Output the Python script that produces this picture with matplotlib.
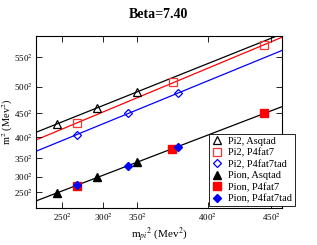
import numpy as np
import matplotlib
matplotlib.use('Agg')
import matplotlib.pyplot as plt

plt.rcParams['font.family'] = ['Liberation Serif', 'DejaVu Serif']
plt.rcParams['mathtext.fontset'] = 'stix'

# m^2 values in MeV^2
pi2_asq_x = [59000, 85980, 112570]
pi2_asq_y = [183390, 211835, 240280]
pi2_p4_x = [72390, 137073, 198006]
pi2_p4_y = [184635, 258058, 323837]
pi2_p4tad_x = [72590, 106539, 140220]
pi2_p4tad_y = [164368, 202413, 237968]

pion_asq_x = [59000, 85980, 112770]
pion_asq_y = [61256, 88634, 115834]
pion_p4_x = [72390, 136202, 198006]
pion_p4_y = [73700, 139479, 202413]
pion_p4tad_x = [72590, 106740, 140019]
pion_p4tad_y = [74411, 108723, 142501]

xtick_vals = [250**2, 300**2, 336**2, 400**2, 450**2]
xtick_labels = ['250$^2$', '300$^2$', '350$^2$', '400$^2$', '450$^2$']
ytick_vals = [250**2, 300**2, 350**2, 400**2, 450**2, 500**2, 550**2]
ytick_labels = ['250$^2$', '300$^2$', '350$^2$', '400$^2$', '450$^2$', '500$^2$', '550$^2$']

fig = plt.figure(figsize=(3.17, 2.45), dpi=100)
ax = fig.add_axes([36/317, 1-208/245, 246/317, 172/245])

xlim = (45133, 209868)
xx = np.array(xlim)

def fit_line(xs, ys, color):
    p = np.polyfit(xs, ys, 1)
    ax.plot(xx, np.polyval(p, xx), color=color, linewidth=0.9, zorder=1)

fit_line(pi2_asq_x, pi2_asq_y, 'black')
fit_line(pi2_p4_x, pi2_p4_y, 'red')
fit_line(pi2_p4tad_x, pi2_p4tad_y, 'blue')
fit_line(pion_asq_x + pion_p4_x + pion_p4tad_x,
         pion_asq_y + pion_p4_y + pion_p4tad_y, 'black')

ax.plot(pi2_asq_x, pi2_asq_y, '^', mfc='none', mec='black', ms=6, mew=0.9,
        linestyle='none', label='Pi2, Asqtad')
ax.plot(pi2_p4_x, pi2_p4_y, 's', mfc='none', mec='#ff3333', ms=5.5, mew=0.9,
        linestyle='none', label='Pi2, P4fat7')
ax.plot(pi2_p4tad_x, pi2_p4tad_y, 'D', mfc='none', mec='blue', ms=4.5, mew=0.9,
        linestyle='none', label='Pi2, P4fat7tad')
ax.plot(pion_asq_x, pion_asq_y, '^', color='black', ms=6,
        linestyle='none', label='Pion, Asqtad')
ax.plot(pion_p4_x, pion_p4_y, 's', color='red', ms=5.5,
        linestyle='none', label='Pion, P4fat7')
ax.plot(pion_p4tad_x, pion_p4tad_y, 'D', color='blue', ms=4.5,
        linestyle='none', label='Pion, P4fat7tad')

ax.set_xlim(xlim)
ax.set_ylim(34056, 339833)
ax.set_xticks(xtick_vals)
ax.set_xticklabels(xtick_labels)
ax.set_yticks(ytick_vals)
ax.set_yticklabels(ytick_labels)
ax.tick_params(direction='in', top=True, right=True, length=4, width=0.6,
               labelsize=6.5, pad=2.5)
for s in ax.spines.values():
    s.set_linewidth(0.8)

ax.set_xlabel('m$_{pi}$$^2$ (Mev$^2$)', fontsize=8)
ax.set_ylabel('m$^2$ (Mev$^2$)', fontsize=7.5)
ax.xaxis.set_label_coords(0.5, (208-226)/172)
ax.yaxis.set_label_coords((15-36)/246, 0.5)
fig.text(158/317, 1-14/245, 'Beta=7.40', ha='center', va='center',
         fontsize=10, fontweight='bold')

leg = ax.legend(loc='upper left', bbox_to_anchor=(209/317, 1-134/245),
                bbox_transform=fig.transFigure, fontsize=7.5, frameon=True,
                fancybox=False, borderaxespad=0, borderpad=0.25,
                labelspacing=0.2, handlelength=1.0, handletextpad=0.6)
leg.get_frame().set_edgecolor('black')
leg.get_frame().set_linewidth(0.6)
leg.get_frame().set_alpha(1)

fig.savefig('out.png', dpi=100)
